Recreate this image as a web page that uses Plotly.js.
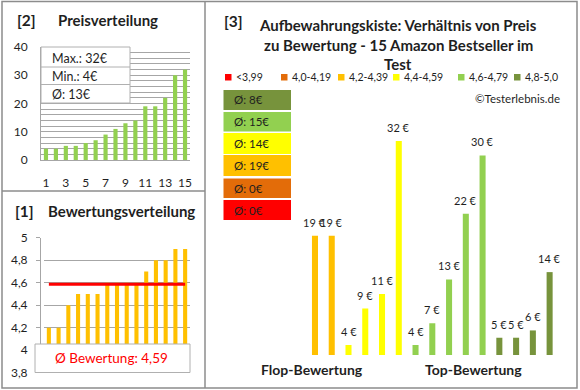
<!DOCTYPE html>
<html><head><meta charset="utf-8">
<script src="https://cdn.plot.ly/plotly-3.0.1.min.js"></script>
<style>html,body{margin:0;padding:0;background:#fff}#chart{width:580px;height:390px}</style>
</head><body><div id="chart"></div>
<script>
// ---- data ----
const productIndex = [1,2,3,4,5,6,7,8,9,10,11,12,13,14,15];
const priceSorted = [4,4,5,5,6,7,9,11,13,14,19,19,22,30,32];
const ratingSorted = [4.2,4.2,4.4,4.5,4.5,4.5,4.6,4.6,4.6,4.6,4.7,4.8,4.8,4.9,4.9];
const productRatings = [4.2,4.2,4.4,4.5,4.5,4.5,4.6,4.6,4.6,4.6,4.7,4.8,4.8,4.9,4.9];
const productPrices = [19,19,4,9,11,32,4,7,13,22,30,5,5,6,14];
const classLabels = ['<3,99','4,0-4,19','4,2-4,39','4,4-4,59','4,6-4,79','4,8-5,0'];
const classLower = [0,4.0,4.2,4.4,4.6,4.8];
const classColors = ['#FF0000','#E36C09','#FFC000','#FFFF00','#92D050','#77933C'];

// ---- helpers ----
const W=580,H=390;
const px=x=>x/W, py=y=>1-y/H;
const FONT='Lato';
const TXT='#1f1f1f';
function classOf(r){let c=0;for(let i=0;i<classLower.length;i++){if(r>=classLower[i]-1e-9)c=i;}return c;}
const barColors = productRatings.map(r=>classColors[classOf(r)]);
const avg = a=>a.reduce((s,v)=>s+v,0)/a.length;
const avgRating = avg(ratingSorted);
const classAvg = classLabels.map((_,c)=>{const p=productPrices.filter((v,i)=>classOf(productRatings[i])===c);return p.length?Math.round(avg(p)):0;});

const traces = [
 {type:'bar',x:productIndex,y:priceSorted,xaxis:'x',yaxis:'y',marker:{color:'#92D050'},width:0.42,hoverinfo:'skip'},
 {type:'bar',x:productIndex,y:ratingSorted,xaxis:'x2',yaxis:'y2',marker:{color:'#FFC000'},width:0.42,hoverinfo:'skip'},
 {type:'scatter',mode:'lines',x:[productIndex[0],productIndex[productIndex.length-1]],y:[avgRating,avgRating],xaxis:'x2',yaxis:'y2',line:{color:'#FF0000',width:3},hoverinfo:'skip'},
 {type:'bar',x:productIndex,y:productPrices,xaxis:'x3',yaxis:'y3',marker:{color:barColors},width:0.36,hoverinfo:'skip'}
];

const shapes=[], annotations=[];
const border='#8c8c8c';
// panel borders
shapes.push({type:'rect',xref:'paper',yref:'paper',x0:px(2),x1:px(577),y0:py(388),y1:py(1.5),line:{color:border,width:1.5}});
shapes.push({type:'line',xref:'paper',yref:'paper',x0:px(205),x1:px(205),y0:py(388),y1:py(1.5),line:{color:border,width:1.5}});
shapes.push({type:'line',xref:'paper',yref:'paper',x0:px(2),x1:px(205),y0:py(191),y1:py(191),line:{color:border,width:1.5}});

// top-left info box
const boxLine='#b0b0b0';
shapes.push({type:'rect',layer:'above',xref:'paper',yref:'paper',x0:px(41),x1:px(130),y0:py(103),y1:py(47),fillcolor:'#fff',line:{color:boxLine,width:1}});
shapes.push({type:'line',layer:'above',xref:'paper',yref:'paper',x0:px(41),x1:px(130),y0:py(67),y1:py(67),line:{color:boxLine,width:1}});
shapes.push({type:'line',layer:'above',xref:'paper',yref:'paper',x0:px(41),x1:px(130),y0:py(84.5),y1:py(84.5),line:{color:boxLine,width:1}});
const infoTexts=['Max.: '+Math.max(...priceSorted)+'€','Min.: '+Math.min(...priceSorted)+'€','Ø: '+Math.round(avg(priceSorted))+'€'];
[58,76.5,94.5].forEach((y,i)=>annotations.push({xref:'paper',yref:'paper',x:px(50),y:py(y),xanchor:'left',yanchor:'middle',text:infoTexts[i],showarrow:false,font:{family:FONT,size:12.5,color:TXT}}));

// bottom-left rating box
shapes.push({type:'rect',layer:'above',xref:'paper',yref:'paper',x0:px(35),x1:px(190),y0:py(372.5),y1:py(344),fillcolor:'#fff',line:{color:boxLine,width:1}});
annotations.push({xref:'paper',yref:'paper',x:px(111),y:py(358),xanchor:'center',yanchor:'middle',text:'Ø Bewertung: '+avgRating.toFixed(2).replace('.',','),showarrow:false,font:{family:FONT,size:13.5,color:'#FF0000'}});

// panel titles
annotations.push({xref:'paper',yref:'paper',x:px(26),y:py(20),xanchor:'center',yanchor:'middle',text:'<b>[2]</b>',showarrow:false,font:{family:FONT,size:15.5,color:TXT}});
annotations.push({xref:'paper',yref:'paper',x:px(107.5),y:py(20),xanchor:'center',yanchor:'middle',text:'<b>Preisverteilung</b>',showarrow:false,font:{family:FONT,size:15,color:TXT}});
annotations.push({xref:'paper',yref:'paper',x:px(24),y:py(211),xanchor:'center',yanchor:'middle',text:'<b>[1]</b>',showarrow:false,font:{family:FONT,size:15.5,color:TXT}});
annotations.push({xref:'paper',yref:'paper',x:px(121.5),y:py(211),xanchor:'center',yanchor:'middle',text:'<b>Bewertungsverteilung</b>',showarrow:false,font:{family:FONT,size:15,color:TXT}});
annotations.push({xref:'paper',yref:'paper',x:px(233),y:py(21),xanchor:'center',yanchor:'middle',text:'<b>[3]</b>',showarrow:false,font:{family:FONT,size:15.5,color:TXT}});
['Aufbewahrungskiste: Verhältnis von Preis','zu Bewertung - 15 Amazon Bestseller im','Test'].forEach((t,i)=>
 annotations.push({xref:'paper',yref:'paper',x:px(398),y:py(25+i*19.5),xanchor:'center',yanchor:'middle',text:'<b>'+t+'</b>',showarrow:false,font:{family:FONT,size:15,color:TXT}}));

// legend row
const legX=[225,281,338,393,458,514];
classLabels.forEach((l,i)=>{
 shapes.push({type:'rect',xref:'paper',yref:'paper',x0:px(legX[i]),x1:px(legX[i]+6.5),y0:py(80.5),y1:py(74),fillcolor:classColors[i],line:{width:0}});
 annotations.push({xref:'paper',yref:'paper',x:px(legX[i]+9),y:py(77.5),xanchor:'left',yanchor:'middle',text:l,showarrow:false,font:{family:FONT,size:10.5,color:TXT}});
});
annotations.push({xref:'paper',yref:'paper',x:px(562),y:py(98),xanchor:'right',yanchor:'middle',text:'©Testerlebnis.de',showarrow:false,font:{family:FONT,size:11.5,color:TXT}});

// class average boxes (top: best class)
const boxY=[[90,110],[112,131.5],[133,154],[155,176],[178.5,198],[200,220]];
for(let k=0;k<6;k++){
 const c=5-k;
 shapes.push({type:'rect',xref:'paper',yref:'paper',x0:px(223.5),x1:px(291),y0:py(boxY[k][1]),y1:py(boxY[k][0]),fillcolor:classColors[c],line:{width:0}});
 annotations.push({xref:'paper',yref:'paper',x:px(232),y:py((boxY[k][0]+boxY[k][1])/2),xanchor:'left',yanchor:'middle',text:'Ø: '+classAvg[c]+'€',showarrow:false,font:{family:FONT,size:11.5,color:TXT}});
}

// price labels above right-chart bars
productPrices.forEach((p,i)=>annotations.push({xref:'x3',yref:'y3',x:productIndex[i],y:p,xanchor:'center',yanchor:'bottom',yshift:5,text:p+' €',showarrow:false,font:{family:FONT,size:11,color:TXT}}));
annotations.push({xref:'paper',yref:'paper',x:px(312),y:py(369),xanchor:'center',yanchor:'middle',text:'<b>Flop-Bewertung</b>',showarrow:false,font:{family:FONT,size:14,color:TXT}});
annotations.push({xref:'paper',yref:'paper',x:px(473),y:py(369),xanchor:'center',yanchor:'middle',text:'<b>Top-Bewertung</b>',showarrow:false,font:{family:FONT,size:14,color:TXT}});

const grid='#a6a6a6';
const layout={
 width:W,height:H,margin:{l:0,r:0,t:0,b:0},paper_bgcolor:'#fff',plot_bgcolor:'rgba(0,0,0,0)',
 showlegend:false,separators:',.',font:{family:FONT,color:TXT},barmode:'overlay',
 xaxis:{domain:[px(41),px(190)],range:[0.5,15.5],tickmode:'linear',tick0:1,dtick:2,showgrid:false,zeroline:false,showline:true,linecolor:grid,ticks:'',ticklabelstandoff:12,tickfont:{family:FONT,size:12,color:TXT},fixedrange:true},
 yaxis:{domain:[py(160),py(47)],range:[0,40],tickmode:'linear',tick0:0,dtick:10,showgrid:true,gridcolor:grid,minor:{dtick:2,showgrid:true,gridcolor:grid,gridwidth:1},zeroline:false,showline:true,linecolor:grid,ticks:'',ticklabelstandoff:10,tickfont:{family:FONT,size:12,color:TXT},fixedrange:true},
 xaxis2:{domain:[px(44),px(190)],range:[0.5,15.5],showticklabels:false,showgrid:false,zeroline:false,ticks:'',fixedrange:true},
 yaxis2:{domain:[py(372.7),py(237.7)],range:[3.8,5],tickmode:'linear',tick0:3.8,dtick:0.2,tickformat:'.1~f',showgrid:true,gridcolor:grid,zeroline:false,showline:true,linecolor:grid,ticks:'outside',ticklen:4,tickcolor:grid,ticklabelstandoff:6,tickfont:{family:FONT,size:12,color:TXT},fixedrange:true},
 xaxis3:{domain:[px(306.6),px(558)],range:[0.5,15.5],visible:false,fixedrange:true},
 yaxis3:{domain:[py(355),py(100)],range:[2.63,37.61],visible:false,fixedrange:true},
 shapes:shapes,annotations:annotations
};
Plotly.newPlot('chart',traces,layout,{staticPlot:true,displayModeBar:false});
</script></body></html>
